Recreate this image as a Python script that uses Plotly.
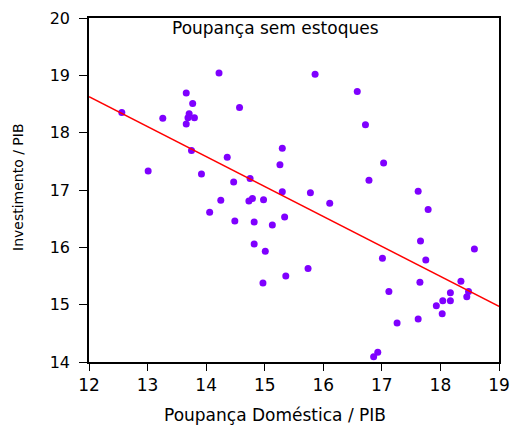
import plotly.graph_objects as go

poupanca = [12.56, 13.26, 13.01, 13.66, 13.77, 13.71, 13.69, 13.80, 13.66, 14.22,
            14.57, 13.75, 14.36, 13.92, 14.47, 14.75, 15.30, 15.26, 15.30, 14.25,
            14.06, 14.73, 14.79, 14.98, 14.49, 14.82, 15.13, 15.34, 14.82, 15.01,
            15.36, 14.97, 15.86, 16.58, 16.72, 17.03, 16.78, 15.78, 17.62, 16.11,
            17.79, 17.66, 18.58, 17.01, 17.75, 15.74, 17.65, 18.35, 17.12, 18.17,
            18.48, 18.45, 18.04, 18.17, 17.93, 18.03, 17.62, 17.26, 16.93, 16.86]
investimento = [18.35, 18.25, 17.33, 18.69, 18.51, 18.33, 18.26, 18.26, 18.15, 19.04,
                18.44, 17.69, 17.57, 17.28, 17.14, 17.20, 17.73, 17.44, 16.97, 16.82,
                16.61, 16.81, 16.85, 16.83, 16.46, 16.44, 16.39, 16.53, 16.06, 15.93,
                15.50, 15.38, 19.02, 18.72, 18.14, 17.47, 17.17, 16.95, 16.98, 16.77,
                16.66, 16.11, 15.97, 15.81, 15.78, 15.63, 15.39, 15.41, 15.23, 15.21,
                15.23, 15.14, 15.07, 15.07, 14.98, 14.84, 14.75, 14.68, 14.17, 14.09]

fit_x = [12, 19]
fit_y = [18.63, 14.97]

x_ticks = [12, 13, 14, 15, 16, 17, 18, 19]
y_ticks = [14, 15, 16, 17, 18, 19, 20]

FONT = "DejaVu Sans, sans-serif"

fig = go.Figure()
fig.add_trace(go.Scatter(x=poupanca, y=investimento, mode="markers",
                         marker=dict(color="#7F00FF", size=7, line=dict(width=0)),
                         showlegend=False, cliponaxis=False))
fig.add_trace(go.Scatter(x=fit_x, y=fit_y, mode="lines",
                         line=dict(color="#FF0000", width=1.5), showlegend=False))

fig.update_layout(
    width=510, height=426,
    margin=dict(l=89, r=11, t=18, b=64, autoexpand=False),
    paper_bgcolor="white", plot_bgcolor="white",
    font=dict(family=FONT, size=17, color="#000000"),
    xaxis=dict(range=[12, 19], tickvals=x_ticks, ticks="outside", ticklen=7,
               tickcolor="#000000", tickwidth=1,
               showline=True, linecolor="#000000", linewidth=1.5, mirror=True,
               showgrid=False, zeroline=False, automargin=False,
               tickfont=dict(size=17)),
    yaxis=dict(range=[14, 20], tickvals=y_ticks, ticks="outside", ticklen=8,
               tickcolor="#000000", tickwidth=1, ticklabelstandoff=6,
               showline=True, linecolor="#000000", linewidth=1.5, mirror=True,
               showgrid=False, zeroline=False, automargin=False,
               tickfont=dict(size=16)),
    annotations=[
        dict(text="Poupança sem estoques", x=0.4545, y=0.972, xref="paper",
             yref="paper", xanchor="center", yanchor="middle", showarrow=False,
             font=dict(size=17)),
        dict(text="Poupança Doméstica / PIB", x=0.4545, y=0, xref="paper",
             yref="paper", xanchor="center", yanchor="middle", yshift=-53,
             showarrow=False, font=dict(size=17)),
        dict(text="Investimento / PIB", x=0, y=0.5, xref="paper", yref="paper",
             xanchor="center", yanchor="middle", xshift=-71, yshift=3,
             textangle=-90, showarrow=False, font=dict(size=14)),
    ],
)

fig.write_html("out.html", config={"displayModeBar": False},
               post_script="document.body.style.margin='0';")
